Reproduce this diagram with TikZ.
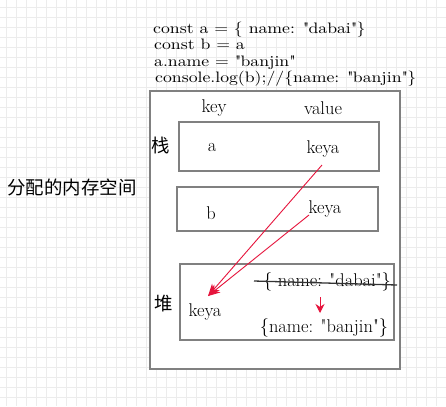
\documentclass[tikz,border=0pt]{standalone}
\usepackage{fontspec}
\newfontfamily\cjk{Noto Sans CJK SC}
\newfontfamily\codefont[FakeStretch=1.17]{lmroman10-regular.otf}
\usetikzlibrary{arrows.meta}
\definecolor{boxgray}{RGB}{128,128,128}
\definecolor{gridgray}{RGB}{236,236,236}
\definecolor{arrred}{RGB}{230,20,60}
\begin{document}
\begin{tikzpicture}[x=1bp,y=-1bp,
  lbl/.style={inner sep=0pt,font=\fontsize{18.5}{21}\selectfont},
  code/.style={inner sep=0pt,anchor=base west,text height=10.5bp,text depth=3bp,font=\codefont\fontsize{15.2}{17}\selectfont},
  cjklbl/.style={inner sep=0pt,font=\cjk\fontsize{18.5}{21}\selectfont},
  region/.style={draw=boxgray,line width=2bp},
  link/.style={draw=arrred,line width=0.9bp,-{Stealth[length=12bp,width=10bp]}},
]
\useasboundingbox (0,0) rectangle (446,406);
\fill[white] (0,0) rectangle (446,406);
\foreach \gx in {6,16,...,446} {\draw[gridgray,line width=0.8bp] (\gx,0) -- (\gx,406);}
\foreach \gy in {7,17,...,406} {\draw[gridgray,line width=0.8bp] (0,\gy) -- (446,\gy);}
% code
\node[code] (c1) at (153,33) {const a = \{ name: \textquotedbl dabai\textquotedbl\}};
\node[code] (c2) at (154,49.5) {const b = a};
\node[code] (c3) at (154,66) {a.name = \textquotedbl banjin\textquotedbl};
\node[code] (c4) at (155,82.5) {console.log(b);//\{name: \textquotedbl banjin\textquotedbl\}};
% outer
\node[cjklbl] (mem) at (72,187) {分配的内存空间};
\draw[region,fill=white] (150,91) rectangle (400,369);
\node[lbl] (key) at (214,108) {key};
\node[lbl] (val) at (323,108) {value};
% stack
\node[cjklbl] (zhan) at (161,145) {栈};
\draw[region] (179,122) rectangle (379,171);
\node[lbl] (ka) at (212,147) {a};
\node[lbl] (va) at (323,149) {keya};
\draw[region] (177,187) rectangle (378,231);
\node[lbl] (kb) at (211,213) {b};
\node[lbl] (vb) at (325,209) {keya};
% heap
\node[cjklbl] (dui) at (164,304) {堆};
\draw[region] (180,264) rectangle (394,340);
\node[lbl] (hk) at (205,312) {keya};
\node[lbl] (old) at (327,282) {\{ name: \textquotedbl dabai\textquotedbl\}};
\node[lbl] (new) at (324,328) {\{name: \textquotedbl banjin\textquotedbl\}};
\coordinate (s1) at (254,281);
\coordinate (s2) at (397,285);
\draw[black!80,line width=1.3bp] (s1) -- (s2);
% arrows
\coordinate (pa) at (322,165);
\coordinate (pb) at (309,215);
\coordinate (tip) at (208,296);
\draw[link] (pa) -- (tip);
\draw[link] (pb) -- (tip);
\coordinate (d1) at (320,297);
\coordinate (d2) at (320,313);
\draw[draw=arrred,line width=1bp,-{Stealth[length=9bp,width=9bp]}] (d1) -- (d2);
\end{tikzpicture}
\end{document}
